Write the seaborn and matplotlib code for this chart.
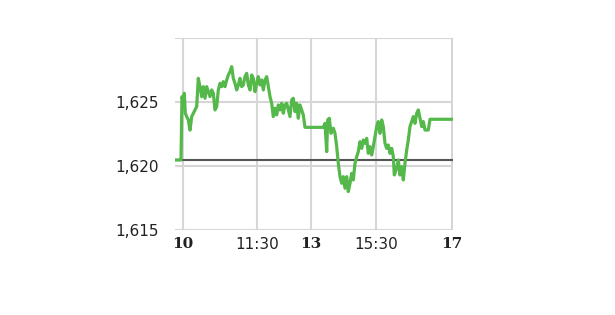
import matplotlib
matplotlib.use("Agg")
import matplotlib.pyplot as plt
import seaborn as sns
import pandas as pd

# chart positions (time axis, compressed session scale) and prices
x_pos = [-8, -2, -1, 0.3, 1.3, 2.3, 3.7, 5.3, 7, 8.7, 10.3, 12, 13.7, 15.3, 17, 18.7, 20.3, 22, 23.7,
         25.3, 27, 28.7, 30.3, 32, 33.7, 35.3, 37, 38.7, 40.3, 42, 43.7, 45.3, 47, 48.7, 50.3, 52,
         53.7, 55.3, 57, 58.7, 60.3, 62, 63.7, 65.3, 67, 68.7, 70.3, 72, 73.7, 75.3, 77, 78.7, 80.3,
         82, 83.7, 85.3, 87, 88.7, 90.3, 92, 93.7, 95.3, 97, 98.7, 100.3, 102, 103.7, 105.3, 107,
         108.7, 110.3, 112, 113.7, 115.3, 117, 118.7, 120.3, 122, 140.3, 142, 143.7, 144.7, 146.3,
         148, 150.3, 152, 153.7, 155.3, 157, 158.7, 160.3, 162, 163.7, 165.3, 167, 168.7, 170.3,
         172, 173.7, 175.3, 177, 178.7, 180.3, 182, 183.7, 185.3, 187, 188.7, 190.3, 192, 193.7,
         195.3, 197, 198.7, 200.3, 202, 203.7, 205.3, 207, 208.7, 210.3, 211.3, 213.7, 215.3, 217,
         218.7, 220.3, 222, 223.7, 225.3, 227, 228.7, 230.3, 232, 233.7, 235.3, 237, 238.7, 240.3,
         242, 245.3, 247, 270.3]
price = [1620.47, 1620.47, 1625.42, 1624.9, 1625.68, 1624.12, 1623.86, 1623.6, 1622.8, 1623.86,
         1624.12, 1624.38, 1624.64, 1626.85, 1626.2, 1625.42, 1626.2, 1625.29, 1626.2, 1625.81,
         1625.42, 1625.94, 1625.68, 1624.38, 1624.64, 1625.94, 1626.46, 1626.2, 1626.59, 1626.2,
         1626.72, 1627.11, 1627.37, 1627.76, 1626.85, 1626.46, 1625.94, 1626.33, 1626.85, 1626.2,
         1626.33, 1626.98, 1627.24, 1626.33, 1625.94, 1627.11, 1626.85, 1625.81, 1626.46, 1626.98,
         1626.33, 1626.72, 1625.94, 1626.72, 1626.98, 1626.2, 1625.42, 1624.9, 1623.86, 1624.51,
         1623.99, 1624.77, 1624.38, 1624.9, 1624.12, 1624.77, 1624.9, 1624.38, 1623.86, 1625.16,
         1625.29, 1624.25, 1624.9, 1623.73, 1624.77, 1624.38, 1623.99, 1623.02, 1623.02, 1623.33,
         1621.12, 1623.6, 1623.73, 1622.55, 1622.95, 1622.55, 1621.51, 1620.21, 1619.17, 1618.65,
         1619.17, 1618.26, 1619.17, 1618.0, 1618.65, 1619.43, 1618.91, 1620.21, 1620.73, 1621.12,
         1621.9, 1621.38, 1622.03, 1621.77, 1622.16, 1620.99, 1621.51, 1620.86, 1621.51, 1622.29,
         1623.08, 1623.47, 1622.55, 1623.6, 1623.08, 1621.77, 1621.38, 1621.64, 1620.99, 1621.38,
         1620.73, 1619.3, 1619.82, 1620.47, 1619.3, 1619.95, 1618.91, 1620.21, 1621.25, 1622.03,
         1623.08, 1623.47, 1623.86, 1623.33, 1624.12, 1624.38, 1623.73, 1623.08, 1623.47, 1622.81,
         1622.81, 1623.65, 1623.65]
prev_close = 1620.47
x_ticks = [0, 74, 128, 193, 269]
x_labels = ["10", "11:30", "13", "15:30", "17"]
x_bold = [True, False, True, False, True]
y_ticks = [1615, 1620, 1625]
y_labels = ["1,615", "1,620", "1,625"]

df = pd.DataFrame({"x": x_pos, "price": price})

sns.set_style("white")
fig = plt.figure(figsize=(6.15, 3.15), dpi=100)
ax = fig.add_axes([175 / 615, 85 / 315, 278 / 615, 192 / 315])

for xt in x_ticks:
    ax.axvline(xt, color="#d6d6d6", lw=1.5, zorder=0)
for yt in [1615, 1620, 1625, 1630]:
    ax.axhline(yt, color="#d6d6d6", lw=1.5, zorder=0)

ax.axhline(prev_close, color="#555555", lw=1.5, zorder=2)
sns.lineplot(data=df, x="x", y="price", ax=ax, color="#55b84a", lw=2.3, zorder=3,
             estimator=None, sort=False)

ax.set_xlim(-8, 270)
ax.set_ylim(1615, 1630)
for s in ax.spines.values():
    s.set_visible(False)
ax.set_xlabel("")
ax.set_ylabel("")
ax.set_xticks(x_ticks)
ax.set_xticklabels(x_labels)
for lab, b in zip(ax.get_xticklabels(), x_bold):
    if b:
        lab.set_fontweight("bold")
        lab.set_family("DejaVu Serif")
    else:
        lab.set_family("DejaVu Sans")
ax.set_yticks(y_ticks)
ax.set_yticklabels(y_labels)
ax.tick_params(axis="x", length=0, pad=5, labelsize=11, labelcolor="#222222")
ax.tick_params(axis="y", length=0, pad=12, labelsize=11, labelcolor="#222222")

fig.savefig("out.png", dpi=100, facecolor="white")
